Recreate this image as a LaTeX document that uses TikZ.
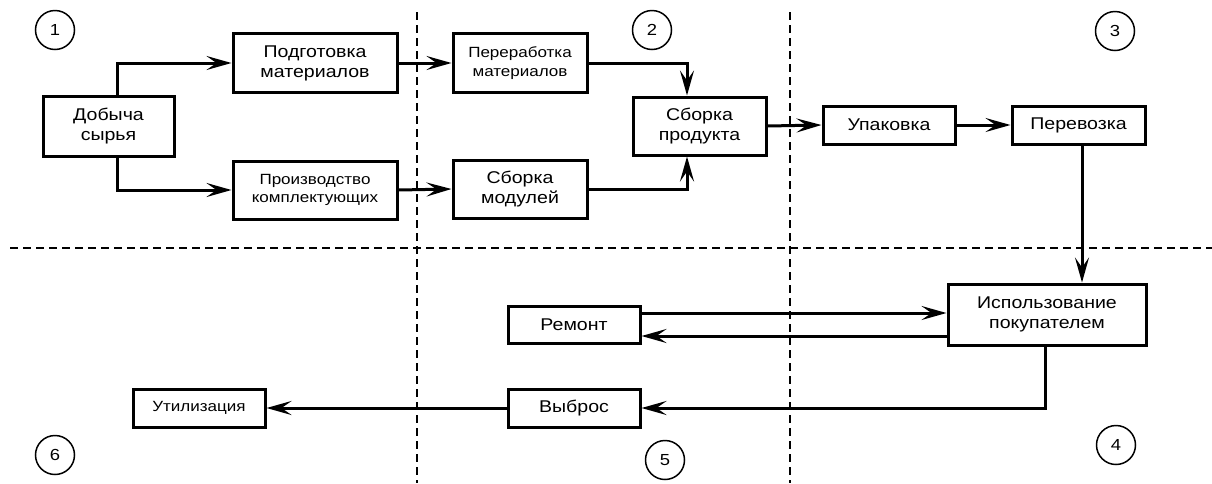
\documentclass[tikz,border=0pt]{standalone}
\usepackage{fontspec}
\setmainfont[FakeStretch=1.15]{Liberation Sans}
\usetikzlibrary{arrows.meta}
\begin{document}
\begin{tikzpicture}[x=1pt,y=-1pt,
  box/.style={draw,line width=3pt,inner sep=0pt,align=center,minimum width=#1},
  lnk/.style={line width=3pt,-{Stealth[length=25pt,width=14pt,inset=10pt]}},
  num/.style={draw,circle,line width=1.5pt,minimum size=39pt,inner sep=0pt,font=\fontsize{16}{18}\selectfont},
  sep/.style={line width=1.2pt,dash pattern=on 8pt off 5pt},
  big/.style={font=\fontsize{17}{20}\selectfont},
  mid/.style={font=\fontsize{17}{20}\selectfont},
  sml/.style={font=\fontsize{14.8}{18.5}\selectfont}]
\useasboundingbox (0,0) rectangle (1212,483);
% separators
\draw[sep] (417,12) -- (417,483);
\draw[sep] (790,12) -- (790,483);
\draw[sep] (10,248) -- (1212,248);
% circles
\node[num] (c1) at (55,30) {1};
\node[num] (c2) at (652,30) {2};
\node[num] (c3) at (1115,31) {3};
\node[num] (c4) at (1116,445) {4};
\node[num] (c5) at (665,460) {5};
\node[num] (c6) at (55,455) {6};
% boxes
\node[box=131pt,minimum height=60pt,big] (dob) at (108.5,126) {Добыча\\сырья};
\node[box=164pt,minimum height=59pt,big] (podg) at (315,63) {Подготовка\\материалов};
\node[box=164pt,minimum height=58pt,sml] (proiz) at (315,190) {Производство\\комплектующих};
\node[box=134pt,minimum height=59pt,sml] (perer) at (520,63) {Переработка\\материалов};
\node[box=134pt,minimum height=58pt,big] (sbm) at (520,189) {Сборка\\модулей};
\node[box=133pt,minimum height=58pt,big] (sbp) at (699.5,126) {Сборка\\продукта};
\node[box=132pt,minimum height=38pt,mid] (upak) at (889,125) {Упаковка};
\node[box=133pt,minimum height=38pt,mid] (perev) at (1078.5,125) {Перевозка};
\node[box=198pt,minimum height=61pt,mid] (isp) at (1047,314.5) {Использование\\покупателем};
\node[box=132pt,minimum height=37pt,mid] (rem) at (574,324.5) {Ремонт};
\node[box=132pt,minimum height=38pt,mid] (vyb) at (574,408) {Выброс};
\node[box=132pt,minimum height=38pt,sml] (util) at (199,408) {Утилизация};
% connectors
\draw[lnk] (dob.north -| 117,0) |- (podg.west);
\draw[lnk] (dob.south -| 117,0) |- (proiz.west);
\draw[lnk] (podg.east) -- (perer.west);
\draw[lnk] (proiz.east) -- (sbm.west);
\draw[lnk] (perer.east) -| (sbp.north -| 687,0);
\draw[lnk] (sbm.east) -| (sbp.south -| 687,0);
\draw[lnk] (sbp.east) -- (upak.west);
\draw[lnk] (upak.east) -- (perev.west);
\draw[lnk] (perev.south -| 1082,0) -- (isp.north -| 1082,0);
\draw[lnk] (rem.east |- 0,313) -- (isp.west |- 0,313);
\draw[lnk] (isp.west |- 0,336) -- (rem.east |- 0,336);
\draw[lnk] (isp.south -| 1045,0) |- (vyb.east);
\draw[lnk] (vyb.west) -- (util.east);
\end{tikzpicture}
\end{document}
